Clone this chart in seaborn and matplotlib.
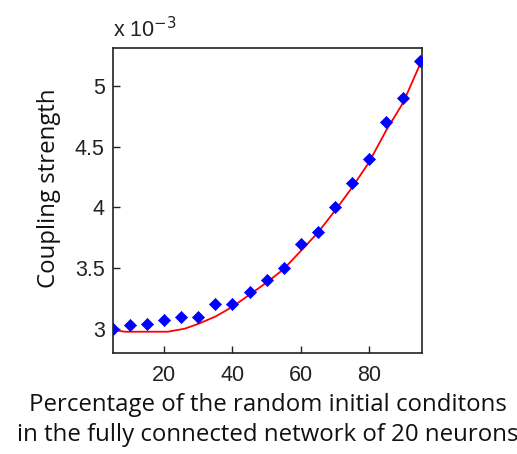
import numpy as np
import pandas as pd
import matplotlib
matplotlib.use('Agg')
import matplotlib.pyplot as plt
import seaborn as sns

# Datos (acoplamiento en unidades de 1e-3)
porcentaje = [5, 10, 15, 20, 25, 30, 35, 40, 45, 50, 55, 60, 65, 70, 75, 80, 85, 90, 95]
acoplamiento = [3.0, 3.03, 3.04, 3.07, 3.1, 3.1, 3.2, 3.2, 3.3, 3.4, 3.5,
                3.7, 3.8, 4.0, 4.2, 4.4, 4.7, 4.9, 5.2]

# Curva de ajuste (roja)
ajuste_x = [5, 8.5, 21, 26, 30, 35, 40, 45, 50, 55, 60, 65, 70, 75, 80, 85, 90, 95]
ajuste_y = [2.99, 2.975, 2.975, 3.0, 3.04, 3.10, 3.18, 3.28, 3.38, 3.49, 3.64,
            3.79, 3.97, 4.16, 4.37, 4.63, 4.86, 5.18]

xticks = [20, 40, 60, 80]
yticks = [3, 3.5, 4, 4.5, 5]
ytick_labels = ['3', '3.5', '4', '4.5', '5']

sns.set_style('white')
plt.rcParams['font.family'] = ['Liberation Sans', 'DejaVu Sans']

fig = plt.figure(figsize=(5.17, 4.54), dpi=100)
ax = fig.add_axes([0.2186, 0.2225, 0.5974, 0.6715])

df_pts = pd.DataFrame({'x': porcentaje, 'y': acoplamiento})
df_fit = pd.DataFrame({'x': ajuste_x, 'y': ajuste_y})

sns.lineplot(data=df_fit, x='x', y='y', color='#ff0000', linewidth=1.3, ax=ax)
sns.scatterplot(data=df_pts, x='x', y='y', marker='D', color='#0000ff',
                s=38, edgecolor='#0000ff', linewidth=0.5, ax=ax, zorder=3)

ax.set_xlim(5, 95.5)
ax.set_ylim(2.8, 5.31)
ax.set_xticks(xticks)
ax.set_yticks(yticks)
ax.set_yticklabels(ytick_labels)
ax.tick_params(bottom=True, left=True, direction='in', length=5, width=1,
               labelsize=15.5, colors='#222222', labelcolor='#222222')
ax.tick_params(axis='x', pad=9)
ax.tick_params(axis='y', pad=6)
for s in ax.spines.values():
    s.set_color('#222222')
    s.set_linewidth(1.2)

ax.set_xlabel('Percentage of the random initial conditons\nin the fully connected network of 20 neurons',
              family='Open Sans', fontsize=17.3, color='#111111', labelpad=5, linespacing=1.3)
ax.set_ylabel('Coupling strength', family='Open Sans', fontsize=17.3, color='#111111')
ax.yaxis.set_label_coords(-0.17, 0.54)

ax.text(0.0, 1.02, r'x 10$^{-3}$', transform=ax.transAxes, fontsize=15.5,
        color='#222222', ha='left', va='bottom')

fig.savefig('out.png', dpi=100)
